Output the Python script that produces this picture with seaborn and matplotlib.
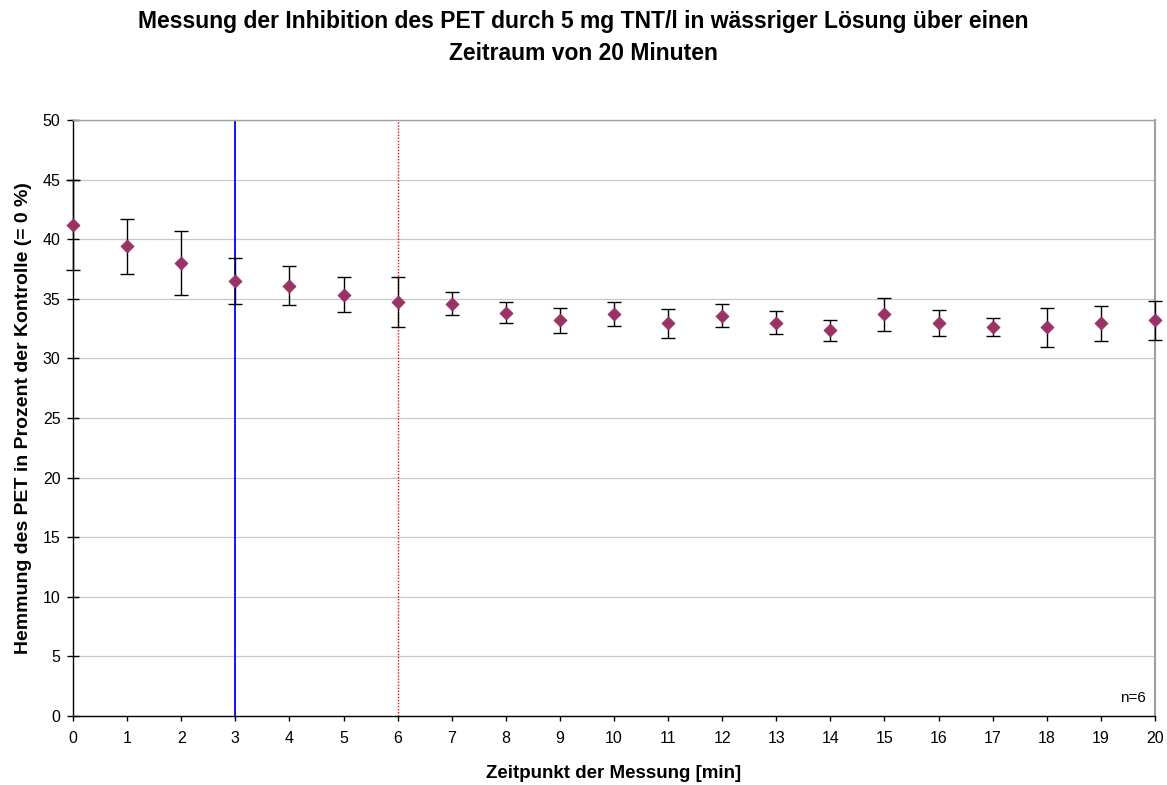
import matplotlib
matplotlib.use("Agg")
import matplotlib.pyplot as plt
import seaborn as sns
import numpy as np
import pandas as pd

minutes = list(range(0, 21))
inhibition = [41.2, 39.4, 38.0, 36.5, 36.1, 35.35, 34.7, 34.6, 33.85, 33.2, 33.75,
              32.95, 33.6, 33.0, 32.35, 33.7, 33.0, 32.6, 32.6, 32.95, 33.2]
error = [3.8, 2.3, 2.65, 1.95, 1.65, 1.45, 2.1, 0.95, 0.88, 1.07, 1.0,
         1.2, 1.0, 0.95, 0.87, 1.4, 1.1, 0.75, 1.65, 1.45, 1.65]
y_ticks = list(range(0, 51, 5))

title = "Messung der Inhibition des PET durch 5 mg TNT/l in wässriger Lösung über einen\nZeitraum von 20 Minuten"
xlabel = "Zeitpunkt der Messung [min]"
ylabel = "Hemmung des PET in Prozent der Kontrolle (= 0 %)"

df = pd.DataFrame({"t": minutes, "v": inhibition, "e": error})

sns.set_theme(style="white")
plt.rcParams['font.family'] = ['Liberation Sans', 'DejaVu Sans']
plt.rcParams['text.color'] = 'black'
plt.rcParams['axes.labelcolor'] = 'black'
plt.rcParams['xtick.color'] = 'black'
plt.rcParams['ytick.color'] = 'black'

fig = plt.figure(figsize=(11.67, 7.85), dpi=100)
ax = fig.add_axes([0.0626, 0.0879, 0.9271, 0.7592])

ax.yaxis.grid(True, color="#c8c8c8", linewidth=0.9)
ax.set_axisbelow(True)

ax.axvline(3, color="#0000ff", linewidth=1.3, zorder=2)
ax.axvline(6, color="#ff0000", linewidth=1.0, linestyle=(0, (1, 1.2)), zorder=2)

ax.errorbar(df["t"], df["v"], yerr=df["e"], fmt="none", ecolor="black",
            elinewidth=1.0, capsize=5, capthick=1.0, zorder=3, clip_on=False)
sns.scatterplot(data=df, x="t", y="v", marker="D", color="#993366", s=45,
                edgecolor="#993366", linewidth=0.5, ax=ax, zorder=4, clip_on=False)

ax.set_xlim(0, 20)
ax.set_ylim(0, 50)
ax.set_xticks(minutes)
ax.set_yticks(y_ticks)
ax.tick_params(axis="x", direction="out", length=3.5, width=1, labelsize=11.5, pad=7)
ax.tick_params(axis="y", direction="inout", length=8, width=1, labelsize=11.5, pad=5)
ax.tick_params(bottom=True, left=True)

for side in ["left", "bottom"]:
    ax.spines[side].set_color("black")
    ax.spines[side].set_linewidth(1.0)
ax.spines["right"].set_color("#a0a0a0")
ax.spines["right"].set_linewidth(1.5)
ax.spines["top"].set_color("#a0a0a0")
ax.spines["top"].set_linewidth(1.0)

ax.set_xlabel(xlabel, fontsize=13.5, fontweight="bold", labelpad=14)
ax.set_ylabel(ylabel, fontsize=14, fontweight="bold", labelpad=8)
fig.text(0.5, 0.987, title, ha="center", va="top", fontsize=16.5, fontweight="bold",
         linespacing=1.5, multialignment="center")

ax.text(0.992, 0.018, "n=6", transform=ax.transAxes, ha="right", va="bottom", fontsize=11)

fig.savefig("out.png", dpi=100)
